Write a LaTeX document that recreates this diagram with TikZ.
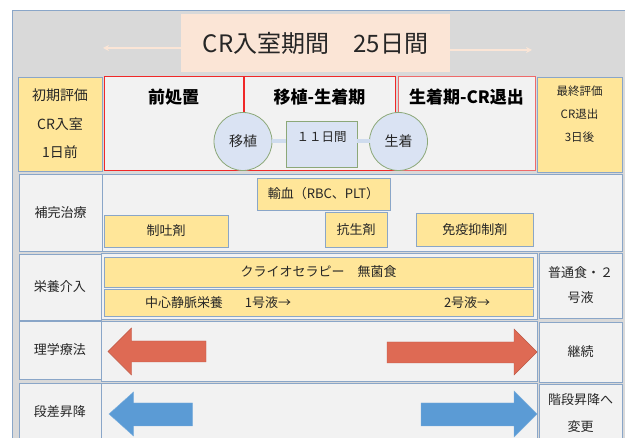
\documentclass[tikz,border=0pt]{standalone}
\usepackage{fontspec}
\setmainfont{Noto Sans CJK JP}
\usetikzlibrary{arrows.meta}
\definecolor{bggray}{HTML}{D9D9D9}
\definecolor{panel}{HTML}{F2F2F2}
\definecolor{yel}{HTML}{FFE699}
\definecolor{bord}{HTML}{8AA6C8}
\definecolor{peach}{HTML}{FBE5D6}
\definecolor{cblue}{HTML}{DAE3F3}
\definecolor{cgreen}{HTML}{8CA878}
\definecolor{connc}{HTML}{CFDCEE}
\definecolor{redarr}{HTML}{DE6A54}
\definecolor{bluearr}{HTML}{5B9BD5}
\definecolor{txt}{HTML}{262626}
\definecolor{redb}{HTML}{F02828}
\definecolor{redb2}{HTML}{EE6A6A}
\newcommand\fsz[2]{\fontsize{#1}{#2}\selectfont}
\newcommand\bx[7]{\node[#1, minimum width={#5-#3}, minimum height={#6-#4}, anchor=north west] (#2) at (#3,#4) {#7};}
\tikzset{
  base/.style={inner sep=0pt, outer sep=0pt, text=txt, font=\fsz{13}{16}, align=center},
  titlebox/.style={base, fill=peach, font=\fsz{24}{28}},
  ybox/.style={base, draw=bord, line width=0.7pt, fill=yel},
  lbox/.style={base, draw=bord, line width=0.9pt, fill=panel},
  pbox/.style={base, draw=bord, line width=0.9pt, fill=panel},
  redbox/.style={base, draw=redb, line width=1pt, fill=panel},
  redbox2/.style={base, draw=redb2, line width=1pt, fill=panel},
  head/.style={base, text=black, font=\fsz{17}{20}\bfseries},
  circ/.style={base, circle, draw=cgreen, line width=0.8pt, fill=cblue, minimum size=58pt, font=\fsz{14}{16}},
  gbox/.style={base, draw=cgreen, line width=0.8pt, fill=cblue},
  conn/.style={connc, line width=4pt},
  tarrow/.style={peach, line width=1.5pt, -{Stealth[length=6pt,width=6pt]}},
  plain/.style={base}
}
\begin{document}
\begin{tikzpicture}[x=1pt,y=-1pt]
\useasboundingbox (0,0) rectangle (625,438);
\clip (0,0) rectangle (625,438);
\fill[white] (0,0) rectangle (625,438);
\draw[bord, line width=0.8pt, fill=bggray] (12,10) rectangle (640,460);

% title
\bx{titlebox}{title}{181}{14}{450}{72}{CR入室期間　25日間}
\coordinate (la) at (103,48);
\coordinate (ra) at (532,50);
\draw[tarrow] (title.west |- la) -- (la);
\draw[tarrow] (title.east |- ra) -- (ra);

% row 1
\bx{ybox,font=\fsz{14}{28.5}}{init}{18}{77}{102}{171}{初期評価\\CR入室\\1日前}
\bx{redbox}{pre}{104}{77}{243}{171}{}
\bx{redbox}{trans}{244}{77}{395}{171}{}
\bx{redbox2}{eng}{398}{77}{535}{171}{}
\bx{ybox}{final}{537}{77}{622}{172}{}
\node[plain, font=\fsz{11.5}{23}] at ([yshift=10pt]final.center) {最終評価\\CR退出\\3日後};
\node[head] at (pre.north |- 0,97) {前処置};
\node[head] at (trans.north |- 0,97) {移植-生着期};
\node[head] at (eng.north |- 0,97) {生着期-CR退出};

\node[circ] (c1) at (243,141.5) {移植};
\node[circ] (c2) at (398.5,141.5) {生着};
\bx{gbox}{b11}{286}{121}{357}{167}{}
\draw[conn] (c1.east) -- (c1.east -| b11.west);
\draw[conn] (c2.west -| b11.east) -- (c2.west);
\node[plain, font=\fsz{12.5}{15}] at ([yshift=7pt]b11.center) {１１日間};

% row 2
\bx{lbox}{l2}{19}{174}{102}{251}{補完治療}
\bx{pbox}{r2}{102}{174}{622}{251}{}
\bx{ybox}{yuketsu}{257}{178}{390}{210}{輸血（RBC、PLT）}
\bx{ybox}{seito}{104}{215}{228}{247}{制吐剤}
\bx{ybox}{kosei}{325}{212}{387}{247}{抗生剤}
\bx{ybox}{meneki}{416.5}{213}{533}{246}{免疫抑制剤}

% row 3
\bx{lbox}{l3}{19}{254}{101}{320}{栄養介入}
\bx{pbox}{r3}{101}{253}{537}{319}{}
\bx{ybox}{cryo}{104}{257}{533}{287}{クライオセラピー　無菌食}
\bx{ybox}{tpn}{104}{289}{533}{316}{}
\node[plain, anchor=west] at ([xshift=41pt]tpn.west) {中心静脈栄養\hspace{22pt}1号液→};
\node[plain, anchor=west] at ([xshift=340pt]tpn.west) {2号液→};
\bx{lbox,font=\fsz{13}{25}}{r3r}{539}{253}{622}{318}{普通食・２\\号液}

% row 4
\bx{lbox}{l4}{19}{321}{101}{379}{理学療法}
\bx{pbox}{r4}{101}{321}{537}{381}{}
\bx{lbox}{r4r}{539}{322}{622}{382}{継続}
\filldraw[fill=redarr, draw=redarr!85!black, line width=0.4pt]
  (108,351.5) -- (131.5,328) -- (131.5,341) -- (206,341) -- (206,362) -- (131.5,362) -- (131.5,375) -- cycle;
\filldraw[fill=redarr, draw=redarr!85!black, line width=0.4pt]
  (537,352) -- (514,329) -- (514,342) -- (387,342) -- (387,363) -- (514,363) -- (514,375) -- cycle;

% row 5
\bx{lbox}{l5}{19}{383}{101}{441}{段差昇降}
\bx{pbox}{r5}{101}{383}{537}{441}{}
\bx{lbox,font=\fsz{13}{27}}{r5r}{539}{384}{622}{443}{階段昇降へ\\変更}
\filldraw[fill=bluearr, draw=bluearr!80!white, line width=0.4pt]
  (109,414) -- (133.5,392) -- (133.5,403) -- (192.5,403) -- (192.5,426) -- (133.5,426) -- (133.5,436) -- cycle;
\filldraw[fill=bluearr, draw=bluearr!80!white, line width=0.4pt]
  (537,414) -- (514,391) -- (514,403) -- (421,403) -- (421,426) -- (514,426) -- (514,437) -- cycle;
\end{tikzpicture}
\end{document}
